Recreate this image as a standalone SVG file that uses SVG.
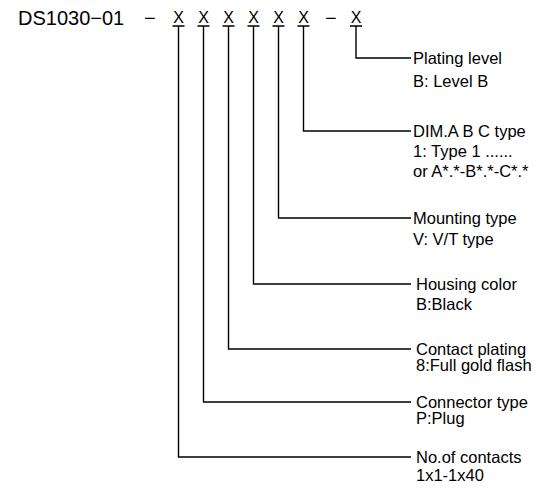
<svg xmlns="http://www.w3.org/2000/svg" width="551" height="493" viewBox="0 0 551 493">
<style>
.hd{font-family:"Liberation Sans",Arial,sans-serif;font-size:20px;fill:#000}
.x{font-family:"Liberation Sans",Arial,sans-serif;font-size:16px;fill:#000;text-anchor:middle}
.lb{font-family:"Liberation Sans",Arial,sans-serif;font-size:16.5px;fill:#000}
.ln{fill:none;stroke:#000;stroke-width:1.4}
</style>
<rect width="551" height="493" fill="#fff"/>
<g id="header">
<text class="hd" x="18" y="25">DS1030−01</text>
<text class="hd" x="144" y="25">−</text>
<text class="x" x="178.5" y="23">X</text>
<text class="x" x="203.5" y="23">X</text>
<text class="x" x="228.5" y="23">X</text>
<text class="x" x="253.5" y="23">X</text>
<text class="x" x="278.5" y="23">X</text>
<text class="x" x="303.5" y="23">X</text>
<text class="hd" x="325" y="25">−</text>
<text class="x" x="356" y="23">X</text>
</g>
<g id="connectors">
<path class="ln" d="M172.5 26H184.5M178.5 26V457H411"/>
<path class="ln" d="M197.5 26H209.5M203.5 26V402H411"/>
<path class="ln" d="M222.5 26H234.5M228.5 26V349H411"/>
<path class="ln" d="M247.5 26H259.5M253.5 26V284H411"/>
<path class="ln" d="M272.5 26H284.5M278.5 26V218H411"/>
<path class="ln" d="M297.5 26H309.5M303.5 26V131H411"/>
<path class="ln" d="M350 26H362M356 26V58H411"/>
</g>
<g id="plating-level">
<text class="lb" x="413" y="64">Plating level</text>
<text class="lb" x="413" y="87">B: Level B</text>
</g>
<g id="dim-type">
<text class="lb" x="413" y="137">DIM.A B C type</text>
<text class="lb" x="413" y="157">1: Type 1 ......</text>
<text class="lb" x="413" y="177">or A*.*-B*.*-C*.*</text>
</g>
<g id="mounting-type">
<text class="lb" x="413" y="224">Mounting type</text>
<text class="lb" x="413" y="245">V: V/T type</text>
</g>
<g id="housing-color">
<text class="lb" x="416" y="290">Housing color</text>
<text class="lb" x="416" y="310">B:Black</text>
</g>
<g id="contact-plating">
<text class="lb" x="416" y="355">Contact plating</text>
<text class="lb" x="416" y="371">8:Full gold flash</text>
</g>
<g id="connector-type">
<text class="lb" x="416" y="408">Connector type</text>
<text class="lb" x="416" y="424">P:Plug</text>
</g>
<g id="no-of-contacts">
<text class="lb" x="416" y="463">No.of contacts</text>
<text class="lb" x="416" y="481">1x1-1x40</text>
</g>
</svg>
